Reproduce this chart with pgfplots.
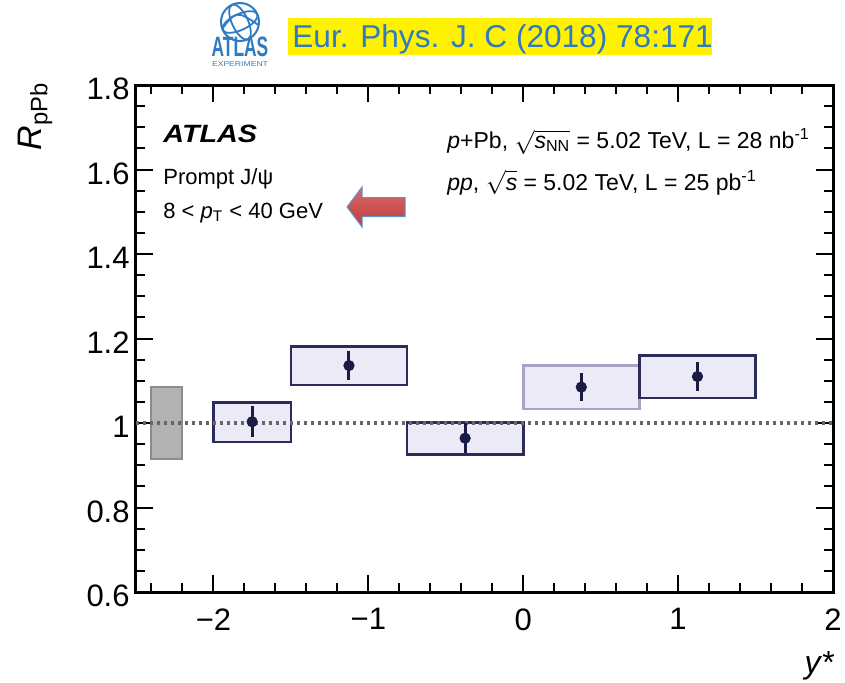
\documentclass[border=0pt]{standalone}
\usepackage{fontspec}
\setmainfont{Liberation Sans}
\usepackage{pgfplots}
\pgfplotsset{compat=1.18}

\definecolor{boxfill}{HTML}{EDEAF8}
\definecolor{boxline}{HTML}{2B2B5C}
\definecolor{boxlinelt}{HTML}{A6A3C6}
\definecolor{ptcol}{HTML}{1B1B45}
\definecolor{atlasblue}{HTML}{2F7BC3}
\definecolor{hlyellow}{HTML}{FFF200}
\definecolor{arrtop}{HTML}{D86A6A}
\definecolor{arrmid}{HTML}{B01E1E}
\definecolor{arrbot}{HTML}{C23A3A}

\begin{document}
\begin{tikzpicture}
\begin{axis}[
  scale only axis,
  width=348.5pt, height=253.5pt,
  xmin=-2.5, xmax=2, ymin=0.6, ymax=1.8,
  axis line style={line width=1.5pt},
  tick style={line width=1pt, black},
  major tick length=8.5pt, minor tick length=4.5pt,
  tick align=inside,
  tick pos=both,
  xtick={-2,-1,0,1,2},
  xticklabels={−2,−1,0,1,2},
  minor xtick={-2.4,-2.2,-1.8,-1.6,-1.4,-1.2,-0.8,-0.6,-0.4,-0.2,0.2,0.4,0.6,0.8,1.2,1.4,1.6,1.8},
  ytick={0.6,0.8,1,1.2,1.4,1.6,1.8},
  minor ytick={0.65,0.7,0.75,0.85,0.9,0.95,1.05,1.1,1.15,1.25,1.3,1.35,1.45,1.5,1.55,1.65,1.7,1.75},
  /pgf/number format/assume math mode=true,
  tick label style={font=\fontsize{15.5}{18}\selectfont},
  yticklabel style={inner sep=0pt, xshift=-3pt, yshift=-2pt},
  xticklabel style={inner sep=0pt, yshift=-8pt},
  ylabel={\textit{R}\textsubscript{pPb}},
  ylabel style={at={(axis description cs:-0.1349,1.006)}, anchor=base east, inner sep=0pt, font=\fontsize{17}{19}\selectfont},
  xlabel={\textit{y}*},
  xlabel style={at={(axis description cs:1.003,-0.16)}, anchor=base east, inner sep=0pt, font=\fontsize{16}{18}\selectfont},
]
% global normalisation box
\addplot[fill=black!30, draw=black!45, line width=1pt] coordinates {(-2.4,0.915) (-2.2,0.915) (-2.2,1.085) (-2.4,1.085)} -- cycle;
% systematic boxes
\addplot[fill=boxfill, draw=boxline, line width=1.3pt] coordinates {(-2,0.955) (-1.5,0.955) (-1.5,1.048) (-2,1.048)} -- cycle;
\addplot[fill=boxfill, draw=boxline, line width=1.3pt] coordinates {(-1.5,1.090) (-0.75,1.090) (-0.75,1.181) (-1.5,1.181)} -- cycle;
\addplot[fill=boxfill, draw=boxline, line width=1.3pt] coordinates {(-0.75,0.926) (0,0.926) (0,1.001) (-0.75,1.001)} -- cycle;
\addplot[fill=boxfill, draw=boxlinelt, line width=1.3pt] coordinates {(0,1.033) (0.75,1.033) (0.75,1.136) (0,1.136)} -- cycle;
\addplot[fill=boxfill, draw=boxline, line width=1.3pt] coordinates {(0.75,1.059) (1.5,1.059) (1.5,1.160) (0.75,1.160)} -- cycle;
% unity line
\addplot[line width=1.6pt, color=black!60, dash pattern=on 1.6pt off 1.9pt] coordinates {(-2.5,1) (2,1)};
% data points
\addplot[only marks, mark=*, mark size=2.6pt, color=ptcol,
  error bars/.cd, y dir=both, y explicit, error mark=none,
  error bar style={line width=1.5pt, color=ptcol}]
  coordinates {
    (-1.75,1.003) +- (0,0.037)
    (-1.125,1.136) +- (0,0.034)
    (-0.375,0.964) +- (0,0.035)
    (0.375,1.085) +- (0,0.033)
    (1.125,1.110) +- (0,0.035)
  };
\end{axis}

% labels inside the frame
\node[anchor=base west, inner sep=0pt, xscale=1.15, font=\bfseries\itshape\fontsize{12.5}{14}\selectfont] at (13.5pt,225pt) {ATLAS};
\node[anchor=base west, inner sep=0pt, font=\fontsize{11}{13}\selectfont] at (13.5pt,204pt) {Prompt J/ψ};
\node[anchor=base west, inner sep=0pt, font=\fontsize{11}{13}\selectfont] at (13.5pt,187pt) {8 < \textit{p}\textsubscript{T} < 40 GeV};
\node[anchor=base west, inner sep=0pt, font=\fontsize{11.5}{13}\selectfont] at (155.5pt,222pt)
  {\textit{p}+Pb, $\sqrt{\mbox{\textit{s}\textsubscript{NN}}}$ = 5.02 TeV, L = 28 nb\textsuperscript{-1}};
\node[anchor=base west, inner sep=0pt, font=\fontsize{11.5}{13}\selectfont] at (155.5pt,201pt)
  {\textit{pp}, $\sqrt{\mbox{\textit{s}}}$ = 5.02 TeV, L = 25 pb\textsuperscript{-1}};

% red arrow
\path[draw=atlasblue!80, line width=0.5pt, top color=arrtop, middle color=arrmid, bottom color=arrbot]
  (105.5pt,192.5pt) -- (113pt,202.5pt) -- (113pt,197.25pt) -- (134.5pt,197.25pt)
  -- (134.5pt,187.75pt) -- (113pt,187.75pt) -- (113pt,182.5pt) -- cycle;

% header
\fill[hlyellow] (76pt,268.5pt) rectangle (288pt,287pt);
\node[anchor=base west, inner sep=0pt, text=atlasblue, font=\fontsize{15.8}{18}\selectfont] at (78pt,272.5pt) {Eur. Phys. J. C (2018) 78:171};
\begin{scope}
  \draw[atlasblue, line width=1pt] (52pt,285pt) circle (9.5pt);
  \clip (52pt,285pt) circle (9.5pt);
  \draw[atlasblue, line width=0.9pt, rotate around={25:(52pt,285pt)}] (52pt,285pt) ellipse (9.5pt and 4pt);
  \draw[atlasblue, line width=0.9pt, rotate around={25:(52pt,285pt)}] (52pt,285pt) ellipse (4pt and 9.5pt);
  \draw[atlasblue, line width=0.9pt] (42pt,280pt) .. controls (50pt,291pt) .. (62pt,283pt);
\end{scope}
\node[anchor=base, inner sep=0pt, text=atlasblue, xscale=0.62, font=\bfseries\fontsize{14}{16}\selectfont] at (52pt,268pt) {ATLAS};
\node[anchor=base, inner sep=0pt, text=atlasblue, xscale=1.23, font=\fontsize{3.5}{4}\selectfont] at (52pt,262.8pt) {EXPERIMENT};

% page extent
\path (-68pt,-45pt) rectangle (354.5pt,296pt);
\end{tikzpicture}
\end{document}
